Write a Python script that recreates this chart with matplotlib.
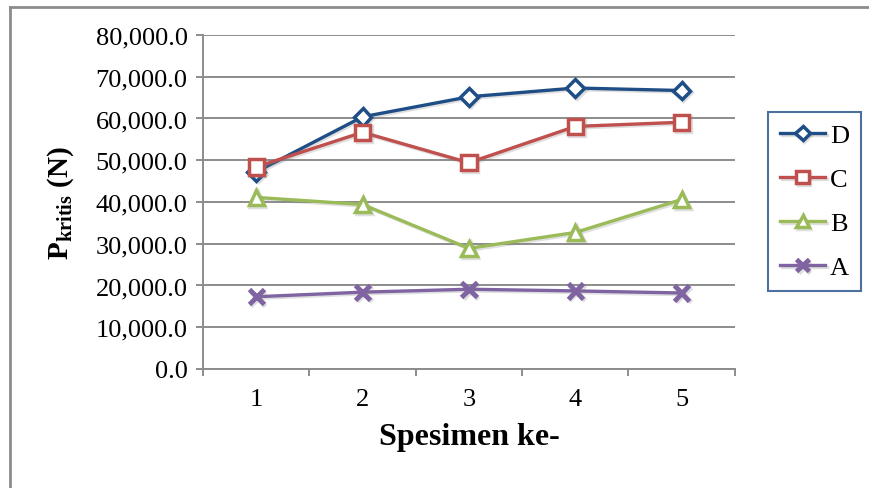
import matplotlib
matplotlib.use("Agg")
import matplotlib.pyplot as plt
import matplotlib.patheffects as pe
from matplotlib.lines import Line2D
from matplotlib.ticker import FuncFormatter

plt.rcParams['font.family'] = ['Liberation Serif', 'DejaVu Serif']
plt.rcParams['mathtext.fontset'] = 'custom'
plt.rcParams['mathtext.rm'] = 'Liberation Serif'
plt.rcParams['mathtext.bf'] = 'Liberation Serif:bold'

specimens = [1, 2, 3, 4, 5]
D = [47200, 60400, 65200, 67300, 66700]
C = [48400, 56700, 49400, 58100, 59100]
B = [41100, 39400, 28900, 32700, 40600]
A = [17300, 18400, 19100, 18700, 18200]

series = [
    ("D", D, "#1F4E86", "D", 9),
    ("C", C, "#C0504D", "s", 11),
    ("B", B, "#9BBB59", "^", 11),
    ("A", A, "#8064A2", "x", 11),
]

fig = plt.figure(figsize=(8.69, 4.89), dpi=100)
ax = fig.add_axes([0.2336, 0.2434, 0.612, 0.683])

shadow = [pe.SimpleLineShadow(offset=(1.2, -1.2), shadow_color="gray", alpha=0.25), pe.Normal()]
for name, vals, col, mk, ms in series:
    if mk == "x":
        ax.plot(specimens, vals, color=col, lw=2.4, marker=mk, ms=ms, mew=3.5,
                label=name, path_effects=shadow, zorder=3)
    else:
        ax.plot(specimens, vals, color=col, lw=2.4, marker=mk, ms=ms, mew=2.5,
                mfc="white", mec=col, label=name, path_effects=shadow, zorder=3)

ax.set_xlim(0.5, 5.5)
ax.set_ylim(0, 80000)
ax.set_yticks(range(0, 80001, 10000))
ax.yaxis.set_major_formatter(FuncFormatter(lambda v, p: f"{v:,.1f}"))
ax.grid(axis="y", color="#8C8C8C", lw=1.4)
ax.set_axisbelow(True)

ax.set_xticks([0.5, 1.5, 2.5, 3.5, 4.5, 5.5])
ax.set_xticklabels([])
ax.set_xticks(specimens, minor=True)
ax.set_xticklabels([str(s) for s in specimens], minor=True)
ax.tick_params(axis="x", which="minor", length=0, pad=14, labelsize=19)
ax.tick_params(axis="x", which="major", length=5, color="#8C8C8C", width=1.4)
ax.tick_params(axis="y", length=5, color="#8C8C8C", width=1.4, labelsize=19, pad=6)

for s in ["top", "right"]:
    ax.spines[s].set_visible(False)
for s in ["left", "bottom"]:
    ax.spines[s].set_color("#8C8C8C")
    ax.spines[s].set_linewidth(1.4)

ax.set_xlabel("Spesimen ke-", fontsize=23, fontweight="bold", labelpad=8)
ax.set_ylabel(r"P$_{\mathbf{kritis}}$ (N)", fontsize=21, fontweight="bold", labelpad=14)

leg = ax.legend(loc="upper left", bbox_to_anchor=(0.884, 0.769), bbox_transform=fig.transFigure,
                fontsize=19, frameon=True, fancybox=False, handlelength=1.7, markerscale=0.8,
                labelspacing=0.78, borderpad=0.45, handletextpad=0.2, borderaxespad=0)
leg.get_frame().set_edgecolor("#1F4E86")
leg.get_frame().set_linewidth(1.5)

# outer chart border (top and left only visible)
fig.add_artist(Line2D([10 / 869, 1], [1 - 8 / 489, 1 - 8 / 489], transform=fig.transFigure, color="#8C8C8C", lw=2))
fig.add_artist(Line2D([10 / 869, 10 / 869], [0, 1 - 8 / 489], transform=fig.transFigure, color="#8C8C8C", lw=2))

fig.savefig("out.png", dpi=100)
